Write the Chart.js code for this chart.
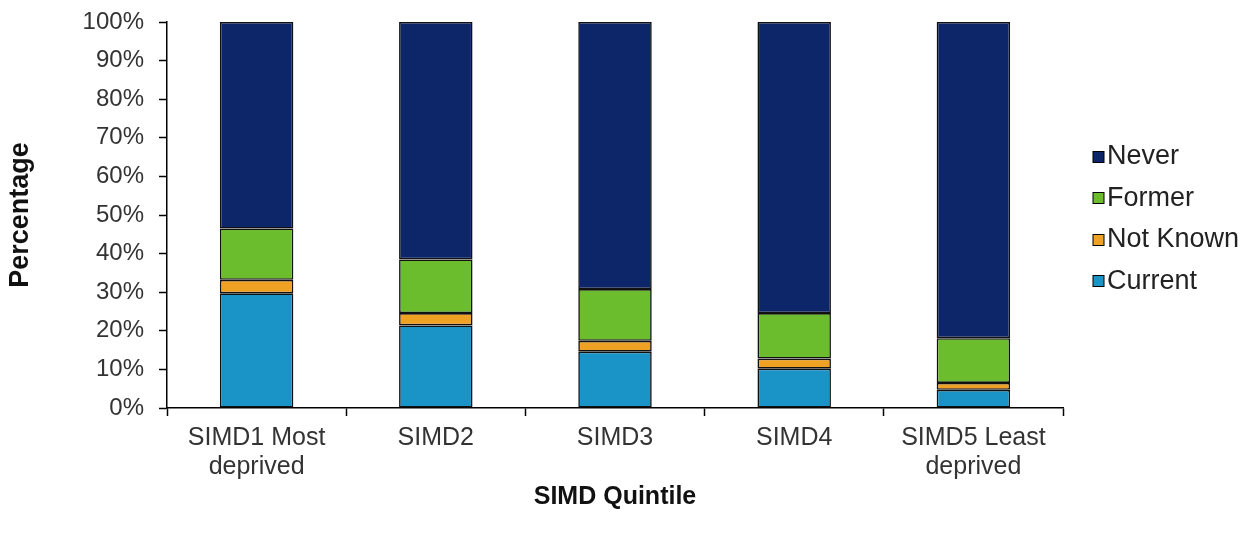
<!DOCTYPE html>
<html>
<head>
<meta charset="utf-8">
<title>Smoking status by SIMD quintile</title>
<script src="https://cdn.jsdelivr.net/npm/chart.js@4.4.1/dist/chart.umd.min.js"></script>
<style>
  html, body { margin: 0; padding: 0; background: #ffffff; }
  #wrap { width: 1255px; height: 536px; position: relative; }
</style>
</head>
<body>
<div id="wrap"><canvas id="chart" width="1255" height="536"></canvas></div>
<script>
// SIMD quintiles (x axis categories)
const categories = [
  ['SIMD1 Most', 'deprived'],
  'SIMD2',
  'SIMD3',
  'SIMD4',
  ['SIMD5 Least', 'deprived']
];

// Percentage of people in each smoking status, stacked bottom to top
const currentPct  = [29.7, 21.4, 14.6, 10.2, 4.7];
const notKnownPct = [3.5, 3.2, 2.8, 2.6, 1.8];
const formerPct   = [13.3, 13.9, 13.4, 11.8, 11.6];
const neverPct    = [53.5, 61.5, 69.2, 75.4, 81.9];

// Y axis tick values
const yTicks = [0, 10, 20, 30, 40, 50, 60, 70, 80, 90, 100];

const FONT = "'Liberation Sans', Arial, Helvetica, sans-serif";

// Legend drawn at the right of the plot, top series first
const sideLegend = {
  id: 'sideLegend',
  afterDraw(chart, args, opts) {
    const ctx = chart.ctx;
    const items = chart.data.datasets.map(d => ({ label: d.label, color: d.backgroundColor })).reverse();
    ctx.save();
    ctx.font = opts.fontSize + 'px ' + FONT;
    ctx.textBaseline = 'middle';
    ctx.textAlign = 'left';
    items.forEach((it, i) => {
      const cy = opts.y + i * opts.spacing;
      const bx = opts.x;
      const by = Math.round(cy - opts.box / 2) + 0.5;
      ctx.fillStyle = it.color;
      ctx.fillRect(bx, by, opts.box, opts.box);
      ctx.strokeStyle = '#000000';
      ctx.lineWidth = 1;
      ctx.strokeRect(bx, by, opts.box, opts.box);
      ctx.fillStyle = '#222222';
      ctx.fillText(it.label, bx + opts.box + opts.gap, cy + 1);
    });
    ctx.restore();
  }
};

const yTickSet = new Set(yTicks);

const makeSet = (label, data, color) => ({
  label, data,
  backgroundColor: color,
  borderColor: '#111111',
  borderWidth: 1.6,
  borderSkipped: false,
  barPercentage: 0.82,
  categoryPercentage: 0.5
});

new Chart(document.getElementById('chart'), {
  type: 'bar',
  data: {
    labels: categories,
    datasets: [
      makeSet('Current', currentPct, '#1a93c6'),
      makeSet('Not Known', notKnownPct, '#eea122'),
      makeSet('Former', formerPct, '#6cbd2d'),
      makeSet('Never', neverPct, '#0c2669')
    ]
  },
  plugins: [sideLegend],
  options: {
    responsive: false,
    animation: false,
    devicePixelRatio: 1,
    layout: { padding: { top: 22, right: 192, bottom: 0, left: 0 } },
    plugins: {
      legend: { display: false },
      tooltip: { enabled: false },
      sideLegend: { x: 1093, y: 156, spacing: 41.5, box: 11, gap: 3, fontSize: 27 }
    },
    scales: {
      x: {
        stacked: true,
        afterFit(s) { s.height = 536 - 408; s.paddingLeft = 0; s.paddingRight = 0; },
        border: { display: true, color: '#000000', width: 1.5 },
        grid: { display: true, drawOnChartArea: false, drawTicks: true, tickLength: 8, tickColor: '#000000', tickWidth: 1.5, offset: true },
        ticks: {
          color: '#333333',
          padding: 8,
          maxRotation: 0,
          autoSkip: false,
          font: { family: FONT, size: 25, lineHeight: 1.15 }
        },
        title: {
          display: true,
          text: 'SIMD Quintile',
          color: '#111111',
          font: { family: FONT, size: 25, weight: 'bold' },
          padding: { top: 10, bottom: 24 }
        }
      },
      y: {
        stacked: true,
        min: 0,
        max: 100,
        afterFit(s) { s.width = 167; s.paddingTop = 0; s.paddingBottom = 0; },
        afterBuildTicks(s) { s.ticks = s.ticks.filter(t => yTickSet.has(t.value)); },
        border: { display: true, color: '#000000', width: 1.5 },
        grid: { display: true, drawOnChartArea: false, drawTicks: true, tickLength: 8, tickColor: '#000000', tickWidth: 1.5 },
        ticks: {
          stepSize: 10,
          color: '#333333',
          padding: 15,
          font: { family: FONT, size: 24 },
          callback: v => v + '%'
        },
        title: {
          display: true,
          text: 'Percentage',
          color: '#111111',
          font: { family: FONT, size: 27, weight: 'bold' },
          padding: { top: 4, bottom: 0 }
        }
      }
    }
  }
});
</script>
</body>
</html>
